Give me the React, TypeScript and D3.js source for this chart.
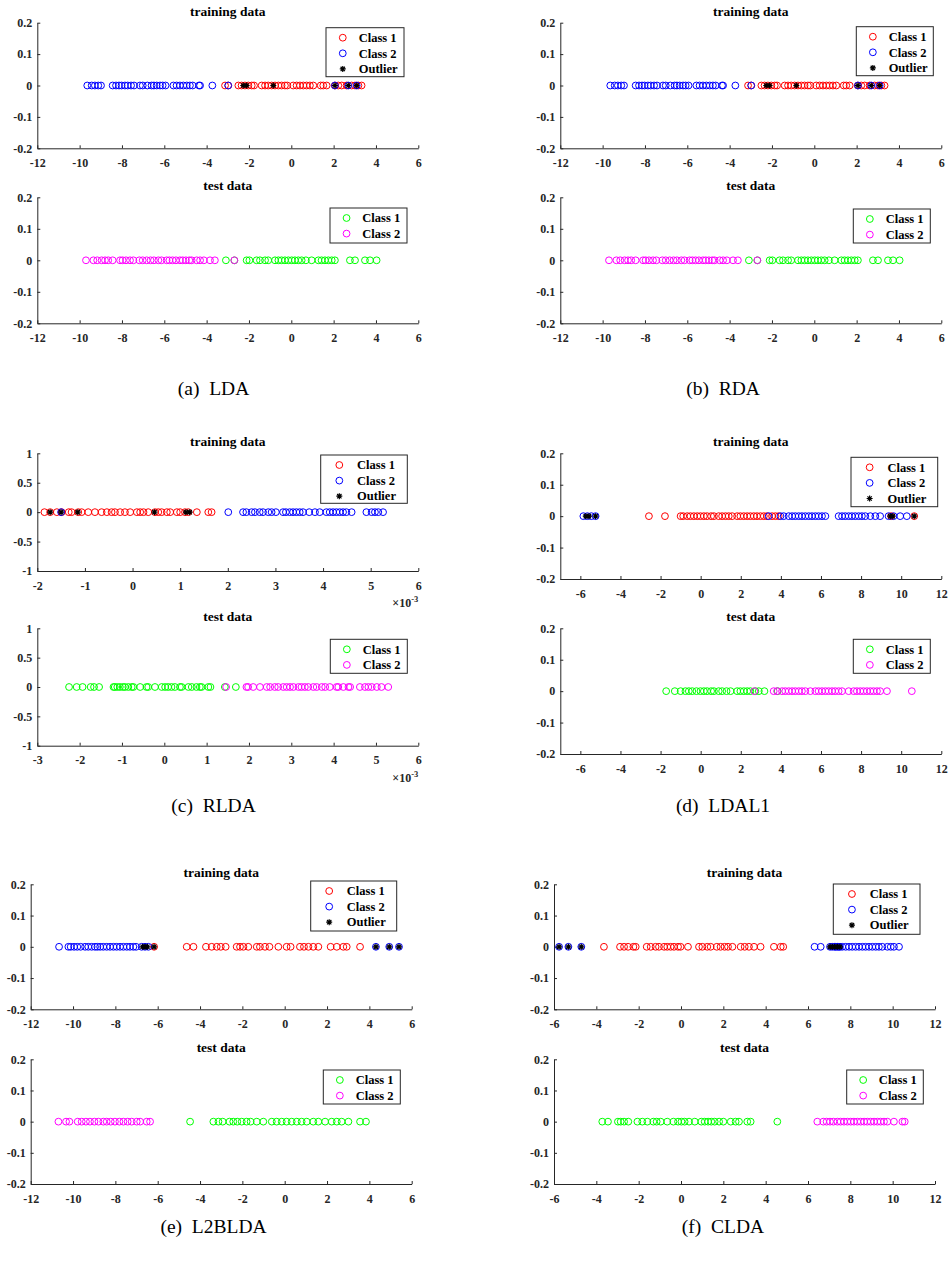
import { useEffect, useRef } from "react";
import { select, scaleLinear, axisLeft, axisBottom, path as d3path } from "d3";

// ---- data ----
const CLASS_LABELS = ["Class 1", "Class 2", "Outlier"];
const Y_TICKS_SMALL = [-0.2, -0.1, 0, 0.1, 0.2];
const Y_TICKS_RLDA = [-1, -0.5, 0, 0.5, 1];
const X_TICKS_WIDE = [-12, -10, -8, -6, -4, -2, 0, 2, 4, 6];
const X_TICKS_RLDA_TRAIN = [-2, -1, 0, 1, 2, 3, 4, 5, 6];
const X_TICKS_RLDA_TEST = [-3, -2, -1, 0, 1, 2, 3, 4, 5, 6];
const X_TICKS_POS = [-6, -4, -2, 0, 2, 4, 6, 8, 10, 12];

// (a) LDA
const ldaTrainC1 = [-3.13, -2.98, -2.5, -2.35, -2.19, -2.03, -1.87, -1.76, -1.4, -1.24, -1.09, -0.93, -0.77, -0.61, -0.46, -0.3, -0.19, 0.09, 0.25, 0.41, 0.57, 0.72, 0.88, 1.04, 1.39, 1.51, 1.67, 2.06, 2.22, 2.38, 2.61, 2.85, 3.01, 3.17, 3.32];
const ldaTrainC2 = [-9.64, -9.43, -9.28, -9.12, -8.99, -8.44, -8.28, -8.14, -8.02, -7.86, -7.73, -7.57, -7.43, -7.15, -7.02, -6.8, -6.6, -6.49, -6.36, -6.2, -6.08, -5.94, -5.57, -5.42, -5.26, -5.1, -4.94, -4.79, -4.66, -4.36, -4.31, -3.73, -2.98, 2.06, 2.69, 3.09];
const ldaTrainOut = [-2.27, -2.11, -0.85, 2.06, 2.69, 3.09];
const ldaTestC1 = [-3.09, -2.69, -2.11, -1.98, -1.64, -1.48, -1.24, -1.09, -0.77, -0.61, -0.46, -0.3, -0.14, 0.02, 0.17, 0.33, 0.49, 0.69, 0.96, 1.28, 1.43, 1.59, 1.75, 1.91, 2.06, 2.77, 3.01, 3.48, 3.72, 4.03];
const ldaTestC2 = [-9.7, -9.35, -9.17, -8.96, -8.8, -8.65, -8.44, -8.09, -7.97, -7.81, -7.62, -7.46, -7.18, -7.02, -6.83, -6.65, -6.49, -6.28, -6.13, -5.89, -5.76, -5.61, -5.45, -5.26, -5.13, -4.98, -4.82, -4.71, -4.47, -4.31, -4.13, -3.84, -3.61, -2.69];

// (b) RDA
const rdaTrainC1 = [-3.13, -2.98, -2.5, -2.35, -2.19, -2.03, -1.87, -1.76, -1.4, -1.24, -1.09, -0.93, -0.77, -0.61, -0.46, -0.3, -0.19, 0.09, 0.25, 0.41, 0.57, 0.72, 0.88, 1.04, 1.39, 1.51, 1.67, 2.06, 2.22, 2.38, 2.61, 2.85, 3.01, 3.17, 3.32];
const rdaTrainC2 = [-9.64, -9.43, -9.28, -9.12, -8.99, -8.44, -8.28, -8.14, -8.02, -7.86, -7.73, -7.57, -7.43, -7.15, -7.02, -6.8, -6.6, -6.49, -6.36, -6.2, -6.08, -5.94, -5.57, -5.42, -5.26, -5.1, -4.94, -4.79, -4.66, -4.36, -4.31, -3.73, -2.98, 2.06, 2.69, 3.09];
const rdaTrainOut = [-2.27, -2.11, -0.85, 2.06, 2.69, 3.09];
const rdaTestC1 = [-3.09, -2.69, -2.11, -1.98, -1.64, -1.48, -1.24, -1.09, -0.77, -0.61, -0.46, -0.3, -0.14, 0.02, 0.17, 0.33, 0.49, 0.69, 0.96, 1.28, 1.43, 1.59, 1.75, 1.91, 2.06, 2.77, 3.01, 3.48, 3.72, 4.03];
const rdaTestC2 = [-9.7, -9.35, -9.17, -8.96, -8.8, -8.65, -8.44, -8.09, -7.97, -7.81, -7.62, -7.46, -7.18, -7.02, -6.83, -6.65, -6.49, -6.28, -6.13, -5.89, -5.76, -5.61, -5.45, -5.26, -5.13, -4.98, -4.82, -4.71, -4.47, -4.31, -4.13, -3.84, -3.61, -2.69];

// (c) RLDA  (x in units of 1e-3)
const rldaTrainC1 = [-1.85, -1.73, -1.59, -1.49, -1.34, -1.28, -1.14, -1.07, -0.93, -0.79, -0.65, -0.54, -0.44, -0.37, -0.26, -0.16, -0.05, 0.09, 0.16, 0.23, 0.33, 0.47, 0.54, 0.61, 0.72, 0.79, 0.93, 1.0, 1.1, 1.17, 1.35, 1.59, 1.66];
const rldaTrainC2 = [-1.5, 2.01, 2.32, 2.39, 2.5, 2.57, 2.67, 2.74, 2.85, 2.92, 3.01, 3.16, 3.22, 3.3, 3.37, 3.44, 3.51, 3.58, 3.71, 3.83, 3.93, 4.07, 4.14, 4.21, 4.28, 4.35, 4.42, 4.49, 4.6, 4.91, 5.02, 5.09, 5.16, 5.26];
const rldaTrainOut = [-1.73, -1.5, -1.15, 0.46, 1.12, 1.2];
const rldaTestC1 = [-2.25, -2.07, -1.93, -1.74, -1.66, -1.54, -1.2, -1.17, -1.11, -1.05, -0.98, -0.93, -0.85, -0.77, -0.73, -0.57, -0.42, -0.38, -0.22, -0.06, 0.02, 0.09, 0.17, 0.25, 0.37, 0.41, 0.57, 0.65, 0.76, 0.84, 0.88, 1.04, 1.09, 1.43, 1.69];
const rldaTestC2 = [1.46, 1.94, 1.98, 2.1, 2.26, 2.42, 2.5, 2.61, 2.69, 2.81, 2.89, 2.97, 3.05, 3.17, 3.24, 3.32, 3.4, 3.52, 3.6, 3.72, 3.8, 3.91, 4.07, 4.11, 4.23, 4.35, 4.39, 4.62, 4.74, 4.82, 4.9, 5.02, 5.13, 5.29];

// (d) LDAL1
const ldal1TrainC1 = [-2.58, -1.78, -1.0, -0.87, -0.67, -0.51, -0.34, -0.17, -0.01, 0.16, 0.32, 0.52, 0.66, 0.9, 1.07, 1.24, 1.4, 1.57, 1.82, 1.98, 2.15, 2.32, 2.48, 2.65, 2.81, 2.98, 3.15, 3.31, 3.56, 3.73, 3.89, 9.5, 10.65];
const ldal1TrainC2 = [-5.85, -5.65, -5.45, -5.24, 3.39, 3.98, 4.14, 4.39, 4.56, 4.72, 4.89, 5.05, 5.22, 5.39, 5.55, 5.72, 5.88, 6.05, 6.22, 6.88, 7.05, 7.21, 7.38, 7.54, 7.71, 7.88, 8.04, 8.21, 8.46, 8.71, 8.95, 9.37, 9.62, 9.95, 10.28];
const ldal1TrainOut = [-5.73, -5.57, -5.24, 9.45, 9.58, 10.65];
const ldal1TestC1 = [-1.72, -1.29, -1.0, -0.76, -0.59, -0.42, -0.21, -0.01, 0.16, 0.32, 0.52, 0.66, 0.9, 1.07, 1.29, 1.49, 1.82, 1.98, 2.15, 2.32, 2.48, 2.73, 2.9, 3.18, 3.84];
const ldal1TestC2 = [2.68, 3.64, 3.81, 4.06, 4.22, 4.39, 4.56, 4.72, 4.89, 5.05, 5.22, 5.47, 5.72, 5.88, 6.05, 6.22, 6.38, 6.55, 6.71, 6.88, 7.05, 7.38, 7.63, 7.79, 7.96, 8.12, 8.29, 8.46, 8.62, 8.79, 8.95, 9.29, 10.53];

// (e) L2BLDA
const l2bTrainC1 = [-6.17, -4.63, -4.31, -3.72, -3.45, -3.21, -3.02, -2.79, -2.27, -2.11, -1.95, -1.72, -1.32, -1.17, -0.93, -0.72, -0.3, 0.09, 0.28, 0.72, 0.91, 1.12, 1.35, 1.59, 2.17, 2.46, 2.77, 2.93, 3.56];
const l2bTrainC2 = [-10.66, -10.22, -10.11, -9.95, -9.8, -9.64, -9.43, -9.28, -9.12, -8.96, -8.85, -8.72, -8.57, -8.41, -8.25, -8.09, -7.94, -7.78, -7.62, -7.46, -7.31, -7.15, -7.02, -6.76, -6.6, -6.44, 4.31, 4.94, 5.4];
const l2bTrainOut = [-6.71, -6.6, -6.49, -6.17, 4.31, 4.94, 5.4];
const l2bTestC1 = [-4.47, -3.37, -3.13, -2.93, -2.61, -2.43, -2.24, -2.03, -1.8, -1.61, -1.32, -1.01, -0.61, -0.38, -0.14, 0.09, 0.33, 0.57, 0.8, 1.04, 1.35, 1.59, 1.91, 2.22, 2.46, 2.69, 3.01, 3.56, 3.84];
const l2bTestC2 = [-10.69, -10.33, -10.17, -9.78, -9.59, -9.39, -9.2, -8.99, -8.8, -8.57, -8.41, -8.22, -8.02, -7.81, -7.62, -7.42, -7.23, -6.99, -6.83, -6.52, -6.36];

// (f) CLDA
const cldaTrainC1 = [-3.64, -2.88, -2.69, -2.5, -2.25, -2.14, -1.62, -1.43, -1.2, -1.04, -0.8, -0.65, -0.49, -0.33, -0.14, -0.02, 0.33, 0.85, 1.01, 1.24, 1.4, 1.69, 1.87, 2.06, 2.22, 2.43, 2.82, 3.01, 3.21, 3.45, 3.76, 4.39, 4.71, 4.83];
const cldaTrainC2 = [-5.76, -5.32, -4.71, 6.31, 6.6, 7.04, 7.15, 7.26, 7.31, 7.39, 7.46, 7.51, 7.62, 7.78, 7.94, 8.09, 8.25, 8.41, 8.57, 8.72, 8.88, 9.04, 9.2, 9.35, 9.51, 9.75, 9.91, 10.06, 10.3];
const cldaTrainOut = [-5.76, -5.32, -4.71, 7.04, 7.15, 7.26, 7.39, 7.51];
const cldaTestC1 = [-3.72, -3.45, -2.98, -2.85, -2.69, -2.49, -2.06, -1.83, -1.59, -1.31, -1.15, -0.96, -0.65, -0.36, -0.14, 0.02, 0.17, 0.38, 0.65, 0.96, 1.12, 1.28, 1.43, 1.59, 1.8, 2.0, 2.35, 2.58, 2.74, 3.13, 3.29, 4.55];
const cldaTestC2 = [6.44, 6.72, 6.88, 7.04, 7.2, 7.39, 7.54, 7.7, 7.86, 8.02, 8.17, 8.33, 8.49, 8.65, 8.8, 8.96, 9.12, 9.28, 9.43, 9.59, 9.75, 10.06, 10.46, 10.57];

// ---- layout ----
const FONT = "'Liberation Serif', 'Times New Roman', Times, serif";
const AXIS_COLOR = "#262626";
const RED = "#ff0000";
const BLUE = "#0000ff";
const GREEN = "#00ff00";
const MAGENTA = "#ff00ff";

type Series = { values: number[]; kind: "circle" | "star"; color: string };

interface Sub {
  title: string;
  box: [number, number, number, number]; // x0, y0, x1, y1 of the axes
  xDomain: [number, number];
  xTicks: number[];
  yTicks: number[];
  legend: [number, number, number, number];
  labels: string[];
  series: Series[];
  exponent?: boolean;
}

function train(c1: number[], c2: number[], out: number[]): Series[] {
  return [
    { values: c1, kind: "circle", color: RED },
    { values: c2, kind: "circle", color: BLUE },
    { values: out, kind: "star", color: "#000000" },
  ];
}
function test(c1: number[], c2: number[]): Series[] {
  return [
    { values: c1, kind: "circle", color: GREEN },
    { values: c2, kind: "circle", color: MAGENTA },
  ];
}

const SUBPLOTS: Sub[] = [
  // (a)
  { title: "training data", box: [37.3, 22.7, 418.3, 148.3], xDomain: [-12, 6], xTicks: X_TICKS_WIDE, yTicks: Y_TICKS_SMALL, legend: [326, 27.7, 78, 49], labels: CLASS_LABELS, series: train(ldaTrainC1, ldaTrainC2, ldaTrainOut) },
  { title: "test data", box: [37.3, 197.3, 418.3, 323.3], xDomain: [-12, 6], xTicks: X_TICKS_WIDE, yTicks: Y_TICKS_SMALL, legend: [330, 208, 77, 35], labels: CLASS_LABELS.slice(0, 2), series: test(ldaTestC1, ldaTestC2) },
  // (b)
  { title: "training data", box: [560.3, 22.7, 941.3, 148.3], xDomain: [-12, 6], xTicks: X_TICKS_WIDE, yTicks: Y_TICKS_SMALL, legend: [856.3, 26.7, 77, 49], labels: CLASS_LABELS, series: train(rdaTrainC1, rdaTrainC2, rdaTrainOut) },
  { title: "test data", box: [560.3, 197.3, 941.3, 323.3], xDomain: [-12, 6], xTicks: X_TICKS_WIDE, yTicks: Y_TICKS_SMALL, legend: [853.3, 209, 77, 34], labels: CLASS_LABELS.slice(0, 2), series: test(rdaTestC1, rdaTestC2) },
  // (c)
  { title: "training data", box: [37.3, 453.3, 418.3, 571], xDomain: [-2, 6], xTicks: X_TICKS_RLDA_TRAIN, yTicks: Y_TICKS_RLDA, legend: [320.7, 455, 86.6, 48.3], labels: CLASS_LABELS, series: train(rldaTrainC1, rldaTrainC2, rldaTrainOut), exponent: true },
  { title: "test data", box: [37.3, 628.3, 418.3, 745.7], xDomain: [-3, 6], xTicks: X_TICKS_RLDA_TEST, yTicks: Y_TICKS_RLDA, legend: [330.3, 639.3, 77, 34], labels: CLASS_LABELS.slice(0, 2), series: test(rldaTestC1, rldaTestC2), exponent: true },
  // (d)
  { title: "training data", box: [560.3, 453.3, 941.3, 579], xDomain: [-7, 12], xTicks: X_TICKS_POS, yTicks: Y_TICKS_SMALL, legend: [851, 457.3, 86.7, 49.4], labels: CLASS_LABELS, series: train(ldal1TrainC1, ldal1TrainC2, ldal1TrainOut) },
  { title: "test data", box: [560.3, 628.3, 941.3, 754], xDomain: [-7, 12], xTicks: X_TICKS_POS, yTicks: Y_TICKS_SMALL, legend: [853.3, 639.3, 77, 34], labels: CLASS_LABELS.slice(0, 2), series: test(ldal1TestC1, ldal1TestC2) },
  // (e)
  { title: "training data", box: [30.7, 884.3, 411.7, 1009.3], xDomain: [-12, 6], xTicks: X_TICKS_WIDE, yTicks: Y_TICKS_SMALL, legend: [310.7, 881, 86, 50], labels: CLASS_LABELS, series: train(l2bTrainC1, l2bTrainC2, l2bTrainOut) },
  { title: "test data", box: [30.7, 1059.3, 411.7, 1184], xDomain: [-12, 6], xTicks: X_TICKS_WIDE, yTicks: Y_TICKS_SMALL, legend: [323.3, 1070, 77, 34], labels: CLASS_LABELS.slice(0, 2), series: test(l2bTestC1, l2bTestC2) },
  // (f)
  { title: "training data", box: [554, 884.3, 935, 1009.3], xDomain: [-6, 12], xTicks: X_TICKS_POS, yTicks: Y_TICKS_SMALL, legend: [833.3, 884, 86.7, 50.3], labels: CLASS_LABELS, series: train(cldaTrainC1, cldaTrainC2, cldaTrainOut) },
  { title: "test data", box: [554, 1059.3, 935, 1184], xDomain: [-6, 12], xTicks: X_TICKS_POS, yTicks: Y_TICKS_SMALL, legend: [846.7, 1070, 76.6, 34], labels: CLASS_LABELS.slice(0, 2), series: test(cldaTestC1, cldaTestC2) },
];

const CAPTIONS = [
  { text: "(a)  LDA", x: 213.5, y: 395 },
  { text: "(b)  RDA", x: 723, y: 395 },
  { text: "(c)  RLDA", x: 213.5, y: 812 },
  { text: "(d)  LDAL1", x: 723, y: 812 },
  { text: "(e)  L2BLDA", x: 213.5, y: 1233 },
  { text: "(f)  CLDA", x: 723, y: 1233 },
];

const fmt = (v: number) => String(+v.toFixed(3));

function starPath(cx: number, cy: number, s: number) {
  const p = d3path();
  const d = s * 0.72;
  p.moveTo(cx - s, cy);
  p.lineTo(cx + s, cy);
  p.moveTo(cx, cy - s);
  p.lineTo(cx, cy + s);
  p.moveTo(cx - d, cy - d);
  p.lineTo(cx + d, cy + d);
  p.moveTo(cx - d, cy + d);
  p.lineTo(cx + d, cy - d);
  return p.toString();
}

export default function App() {
  const svgRef = useRef<SVGSVGElement>(null);

  useEffect(() => {
    const svg = select(svgRef.current);
    svg.selectAll("*").remove();

    svg.append("rect").attr("width", 948).attr("height", 1264).attr("fill", "#ffffff");

    SUBPLOTS.forEach((sp) => {
      const [x0, y0, x1, y1] = sp.box;
      const x = scaleLinear().domain(sp.xDomain).range([x0, x1]);
      const y = scaleLinear()
        .domain([sp.yTicks[0], sp.yTicks[sp.yTicks.length - 1]])
        .range([y1, y0]);
      const g = svg.append("g");

      // --- Axes ---
      g.append("g")
        .attr("transform", `translate(${x0},0)`)
        .call(axisLeft(y).tickValues(sp.yTicks).tickFormat((d) => fmt(d as number)).tickSizeInner(-3).tickSizeOuter(0).tickPadding(5))
        .call((sel) => sel.selectAll("path, line").attr("stroke", AXIS_COLOR))
        .call((sel) =>
          sel.selectAll(".tick text").attr("fill", AXIS_COLOR).attr("font-size", 12).attr("font-weight", "bold").attr("font-family", FONT),
        );

      g.append("g")
        .attr("transform", `translate(0,${y1})`)
        .call(axisBottom(x).tickValues(sp.xTicks).tickFormat((d) => fmt(d as number)).tickSizeInner(-3).tickSizeOuter(0).tickPadding(10))
        .call((sel) => sel.selectAll("path, line").attr("stroke", AXIS_COLOR))
        .call((sel) =>
          sel.selectAll(".tick text").attr("fill", AXIS_COLOR).attr("font-size", 12).attr("font-weight", "bold").attr("font-family", FONT),
        );

      g.selectAll(".domain").attr("stroke-width", 1);

      if (sp.exponent) {
        const t = g
          .append("text")
          .attr("x", x1)
          .attr("y", y1 + 36)
          .attr("text-anchor", "end")
          .attr("fill", AXIS_COLOR)
          .attr("font-family", FONT)
          .attr("font-weight", "bold")
          .attr("font-size", 12);
        t.append("tspan").text("\u00d710");
        t.append("tspan").attr("font-size", 8.5).attr("dy", -5).text("-3");
      }

      // --- Title ---
      g.append("text")
        .attr("x", (x0 + x1) / 2)
        .attr("y", y0 - 7)
        .attr("text-anchor", "middle")
        .attr("fill", "#000000")
        .attr("font-family", FONT)
        .attr("font-weight", "bold")
        .attr("font-size", 13.5)
        .text(sp.title);

      // --- Points ---
      sp.series.forEach((s) => {
        if (s.kind === "circle") {
          g.append("g")
            .selectAll("circle")
            .data(s.values)
            .join("circle")
            .attr("cx", (d) => x(d))
            .attr("cy", y(0))
            .attr("r", 3.4)
            .attr("fill", "none")
            .attr("stroke", s.color)
            .attr("stroke-width", 1);
        } else {
          g.append("g")
            .selectAll("path")
            .data(s.values)
            .join("path")
            .attr("d", (d) => starPath(x(d), y(0), 3))
            .attr("fill", "none")
            .attr("stroke", s.color)
            .attr("stroke-width", 1.2);
        }
      });

      // --- Legend ---
      const [lx, ly, lw, lh] = sp.legend;
      const lg = g.append("g");
      lg.append("rect")
        .attr("x", lx)
        .attr("y", ly)
        .attr("width", lw)
        .attr("height", lh)
        .attr("fill", "#ffffff")
        .attr("stroke", AXIS_COLOR)
        .attr("stroke-width", 1);
      sp.labels.forEach((label, i) => {
        const cy = ly + 10 + i * 15.6;
        const mx = lx + lw * 0.215;
        const s = sp.series[i];
        if (s.kind === "circle") {
          lg.append("circle").attr("cx", mx).attr("cy", cy).attr("r", 3.4).attr("fill", "none").attr("stroke", s.color).attr("stroke-width", 1);
        } else {
          lg.append("path").attr("d", starPath(mx, cy, 3)).attr("fill", "none").attr("stroke", s.color).attr("stroke-width", 1.2);
        }
        lg.append("text")
          .attr("x", lx + lw * 0.42)
          .attr("y", cy + 4.2)
          .attr("fill", "#000000")
          .attr("font-family", FONT)
          .attr("font-weight", "bold")
          .attr("font-size", 12.5)
          .text(label);
      });
    });

    // --- Captions ---
    svg
      .append("g")
      .selectAll("text")
      .data(CAPTIONS)
      .join("text")
      .attr("x", (d) => d.x)
      .attr("y", (d) => d.y)
      .attr("text-anchor", "middle")
      .attr("fill", "#000000")
      .attr("font-family", FONT)
      .attr("font-size", 19.5)
      .style("white-space", "pre")
      .text((d) => d.text);
  }, []);

  return (
    <svg
      ref={svgRef}
      width={948}
      height={1264}
      style={{ position: "absolute", left: 0, top: 0, display: "block" }}
    />
  );
}
